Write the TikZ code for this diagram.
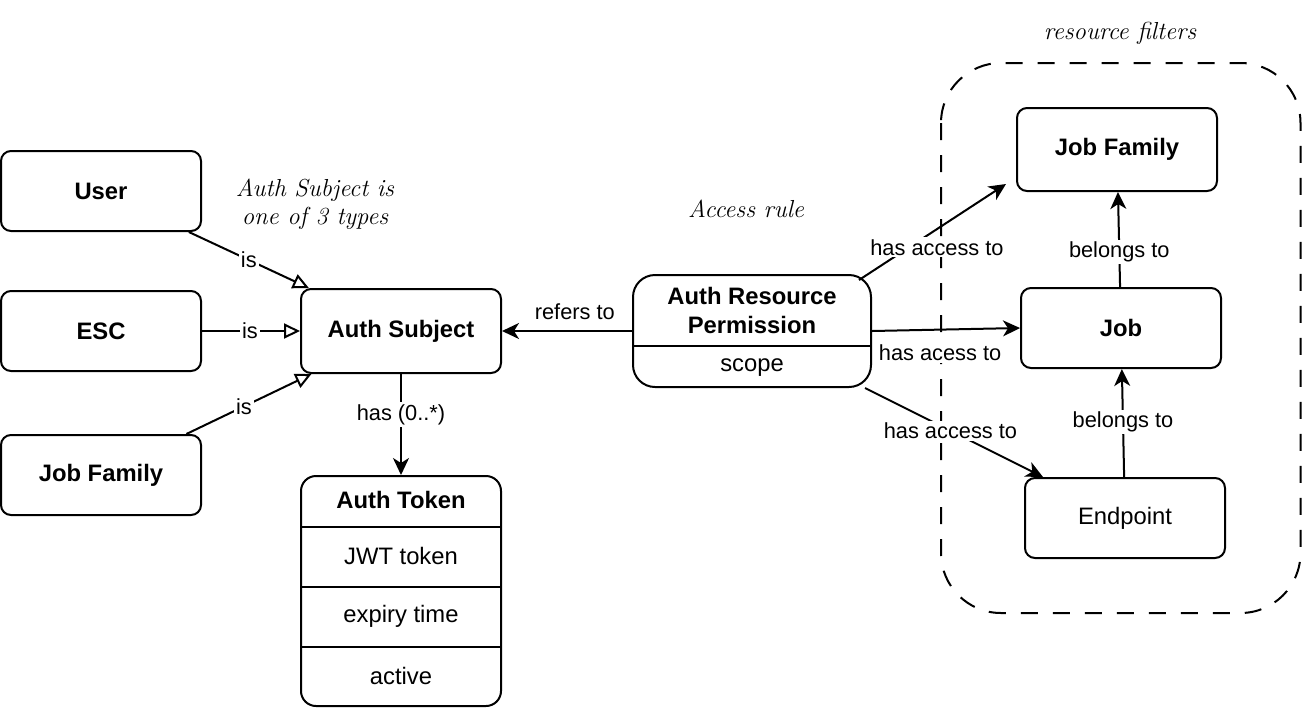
\documentclass[tikz,border=0pt]{standalone}
\usepackage{fontspec}
\newfontfamily\diagfont{Liberation Sans}
\usetikzlibrary{arrows.meta}

\begin{document}
\begin{tikzpicture}[x=0.5pt, y=-0.5pt,
        title/.style={font=\diagfont\fontsize{11.9}{14.5}\selectfont\bfseries, align=center},
        field/.style={font=\diagfont\fontsize{11.9}{14.5}\selectfont},
        box/.style={draw, line width=1pt, rounded corners=5pt, minimum width=100pt, minimum height=40pt, title},
        lbl/.style={fill=white, inner sep=1pt, font=\diagfont\fontsize{10.9}{13}\selectfont},
        note/.style={font=\fontsize{12.3}{14}\selectfont\itshape, align=center},
        isa/.style={line width=1pt, -{Triangle[open, length=8pt, width=7.5pt, fill=white]}},
        rel/.style={line width=1pt, -{Stealth[length=8.5pt, width=8pt, inset=2.5pt]}}]

        \useasboundingbox (0,0) rectangle (1302,708);

        \draw[line width=1pt, dash pattern=on 8.5pt off 7.5pt, rounded corners=30pt] (941,63) rectangle (1300.5,613);
        \node[note] (filternote) at (1120,33) {resource filters};

        \node[box] (user) at (101,191) {User};
        \node[box] (esc) at (101,331) {ESC};
        \node[box] (jfleft) at (101,475) {Job Family};
        \node[box, minimum height=42pt] (subject) at (401,331) {Auth Subject};
        \node[note] (subjectnote) at (315,204) {Auth Subject is\\one of 3 types};

        \node[box, minimum height=115pt, rounded corners=7.5pt] (token) at (401,591) {};
        \node[title] (tokentitle) at (401,500) {Auth Token};
        \node[field] (jwt) at (401,556) {JWT token};
        \node[field] (expiry) at (401,616) {expiry time};
        \node[field] (active) at (401,676) {active};
        \draw[line width=1pt] (token.west |- 0,527) -- (token.east |- 0,527);
        \draw[line width=1pt] (token.west |- 0,587) -- (token.east |- 0,587);
        \draw[line width=1pt] (token.west |- 0,647) -- (token.east |- 0,647);

        \node[box, minimum width=119pt, minimum height=56pt, rounded corners=11pt] (permission) at (752,331) {};
        \node[title] (permtitle) at (752,310) {Auth Resource\\Permission};
        \node[field] (scope) at (752,368) {scope};
        \draw[line width=1pt] (permission.west |- 0,346) -- (permission.east |- 0,346);
        \node[note] (rulenote) at (746,209) {Access rule};

        \node[box, minimum height=41.5pt] (jfright) at (1117,149.5) {Job Family};
        \node[box] (job) at (1121,328) {Job};
        \node[box, field] (endpoint) at (1125,518) {Endpoint};

        \draw[isa] (user) -- node[lbl, pos=0.5] {is} (subject);
        \draw[isa] (esc) -- node[lbl, pos=0.49] {is} (subject);
        \draw[isa] (jfleft) -- node[lbl, pos=0.46] {is} (subject);
        \draw[rel] (subject) -- node[lbl, pos=0.4] {has (0..*)} (token);
        \draw[rel] (permission) -- node[lbl, pos=0.44, yshift=9.5pt] {refers to} (subject);

        \draw[rel] ([xshift=-6.5pt, yshift=-3pt]permission.north east) -- node[lbl, pos=0.34, xshift=14pt] {has access to} ([xshift=-5pt, yshift=4pt]jfright.south west);
        \draw[rel] (permission.east) -- node[lbl, pos=0.46, yshift=-11.5pt] {has acess to} (job.west);
        \draw[rel] ([xshift=-3.5pt]permission.south east) -- node[lbl, pos=0.48] {has access to} ([xshift=9.5pt]endpoint.north west);

        \draw[rel] (job) -- node[lbl, pos=0.37] {belongs to} (jfright);
        \draw[rel] (endpoint) -- node[lbl, pos=0.51] {belongs to} (job);
    \end{tikzpicture}
\end{document}
